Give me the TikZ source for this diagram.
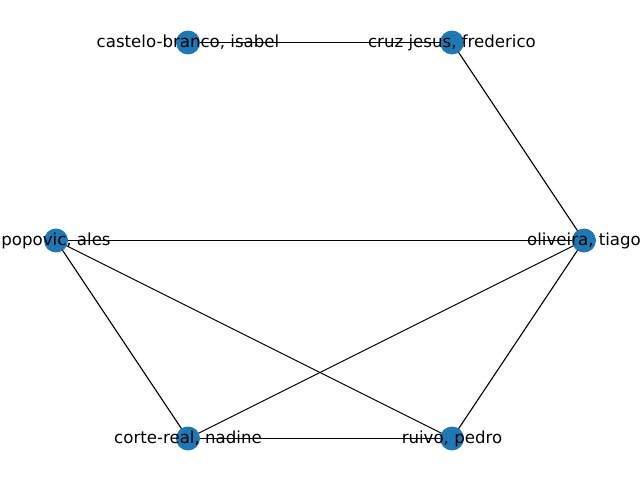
\documentclass[tikz,border=0pt]{standalone}
\usepackage{fontspec}
\setmainfont{DejaVu Sans}
\usetikzlibrary{backgrounds}
\definecolor{nxblue}{HTML}{1F77B4}
\begin{document}
\begin{tikzpicture}[x=0.01in,y=-0.01in,
  vertex/.style={circle,fill=nxblue,minimum size=17.3pt,inner sep=0pt},
  tag/.style={font=\fontsize{12}{14}\selectfont,inner sep=0pt},
  edge/.style={line width=0.8pt,black}]
  \useasboundingbox (0,0) rectangle (640,480);
  \node[vertex] (isabel) at (188,42.5) {};
  \node[vertex] (frederico) at (452,42.5) {};
  \node[vertex] (ales) at (56,240.5) {};
  \node[vertex] (tiago) at (584,240.5) {};
  \node[vertex] (nadine) at (188,438.5) {};
  \node[vertex] (pedro) at (452,438.5) {};
  \begin{pgfonlayer}{background}
    \draw[edge] (isabel.center) -- (frederico.center);
    \draw[edge] (frederico.center) -- (tiago.center);
    \draw[edge] (ales.center) -- (tiago.center);
    \draw[edge] (ales.center) -- (nadine.center);
    \draw[edge] (ales.center) -- (pedro.center);
    \draw[edge] (tiago.center) -- (nadine.center);
    \draw[edge] (tiago.center) -- (pedro.center);
    \draw[edge] (nadine.center) -- (pedro.center);
  \end{pgfonlayer}
  % labels on top of the vertices
  \node[tag] at (isabel) {castelo-branco, isabel};
  \node[tag] at (frederico) {cruz jesus, frederico};
  \node[tag] at (ales) {popovic, ales};
  \node[tag] at (tiago) {oliveira, tiago};
  \node[tag] at (nadine) {corte-real, nadine};
  \node[tag] at (pedro) {ruivo, pedro};
\end{tikzpicture}
\end{document}
